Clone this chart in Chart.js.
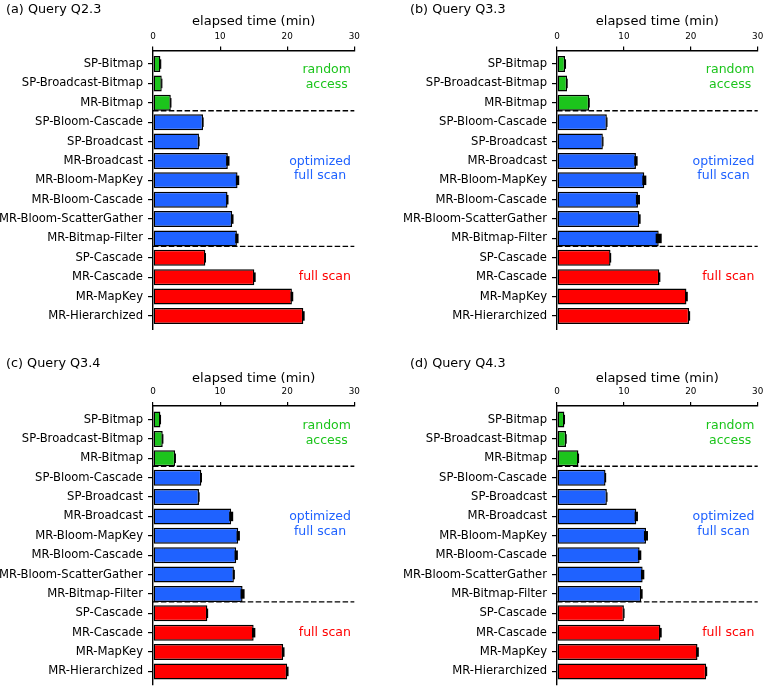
<!DOCTYPE html>
<html>
<head>
<meta charset="utf-8">
<script src="https://cdn.jsdelivr.net/npm/chart.js@4.4.1/dist/chart.umd.min.js"></script>
<style>
  html, body { margin: 0; padding: 0; background: #fff; }
  #wrap { position: relative; width: 763px; height: 687px; overflow: hidden; }
  #wrap canvas { position: absolute; }
</style>
</head>
<body>
<div id="wrap">
  <canvas id="qa" width="380" height="330" style="left:0;top:0"></canvas>
  <canvas id="qb" width="400" height="330" style="left:380px;top:0"></canvas>
  <canvas id="qc" width="380" height="357" style="left:0;top:330px"></canvas>
  <canvas id="qd" width="400" height="357" style="left:380px;top:330px"></canvas>
</div>
<script>
// categories (top to bottom) and the group each one belongs to
const categories = [
  'SP-Bitmap', 'SP-Broadcast-Bitmap', 'MR-Bitmap',
  'SP-Bloom-Cascade', 'SP-Broadcast', 'MR-Broadcast', 'MR-Bloom-MapKey',
  'MR-Bloom-Cascade', 'MR-Bloom-ScatterGather', 'MR-Bitmap-Filter',
  'SP-Cascade', 'MR-Cascade', 'MR-MapKey', 'MR-Hierarchized'
];
const categoryGroup = [0, 0, 0, 1, 1, 1, 1, 1, 1, 1, 2, 2, 2, 2];
const groupLabels = [['random', 'access'], ['optimized', 'full scan'], ['full scan']];
const xTicks = [0, 10, 20, 30];
const panelTitles = ['(a) Query Q2.3', '(b) Query Q3.3', '(c) Query Q3.4', '(d) Query Q4.3'];

// elapsed time (min) and error per query
const q23Times = [1.1, 1.3, 2.65, 7.45, 6.85, 11.15, 12.6, 11.1, 11.8, 12.5, 7.8, 15.1, 20.7, 22.4];
const q23Err   = [0.05, 0.08, 0.1, 0.08, 0.08, 0.25, 0.25, 0.15, 0.2, 0.25, 0.1, 0.2, 0.2, 0.2];
const q33Times = [1.2, 1.5, 4.8, 7.45, 6.85, 11.8, 13.05, 12.1, 12.3, 15.2, 8.0, 15.3, 19.35, 19.75];
const q33Err   = [0.15, 0.1, 0.1, 0.08, 0.08, 0.25, 0.3, 0.3, 0.2, 0.45, 0.08, 0.15, 0.2, 0.15];
const q34Times = [1.1, 1.45, 3.3, 7.2, 6.85, 11.65, 12.7, 12.4, 12.05, 13.35, 8.1, 15.0, 19.4, 20.0];
const q34Err   = [0.08, 0.1, 0.12, 0.1, 0.08, 0.3, 0.25, 0.25, 0.15, 0.3, 0.12, 0.25, 0.2, 0.2];
const q43Times = [1.1, 1.35, 3.2, 7.25, 7.45, 11.85, 13.3, 12.35, 12.8, 12.6, 10.0, 15.45, 21.0, 22.3];
const q43Err   = [0.1, 0.1, 0.1, 0.08, 0.08, 0.25, 0.3, 0.25, 0.25, 0.2, 0.08, 0.2, 0.2, 0.15];

const FONT = "'DejaVu Sans', sans-serif";
const groupColors = ['#1cc41c', '#1f62ff', '#ff0000'];
const BAR_PCT = 0.82;
const labelPos = [0.69, 5.4, 11];   // vertical centre of each group note (category units)

// separators sit on the lower edge of the last bar of each group
const separators = [];
for (let i = 0; i < categoryGroup.length - 1; i++) {
    if (categoryGroup[i] !== categoryGroup[i + 1]) separators.push(i + BAR_PCT / 2);
}

function makePanel(id, title, times, errs, lay) {
    const sepPlugin = {
        id: 'separators',
        beforeDatasetsDraw(chart) {
            const { ctx, scales: { x, y } } = chart;
            ctx.save();
            ctx.strokeStyle = '#000';
            ctx.lineWidth = 1.3;
            ctx.setLineDash([5.5, 2.4]);
            separators.forEach(s => {
                const py = y.getPixelForValue(s);
                ctx.beginPath();
                ctx.moveTo(x.getPixelForValue(0), py);
                ctx.lineTo(x.getPixelForValue(30), py);
                ctx.stroke();
            });
            ctx.restore();
        }
    };

    const errPlugin = {
        id: 'errbars',
        afterDatasetsDraw(chart) {
            const { ctx, scales: { x } } = chart;
            const meta = chart.getDatasetMeta(0);
            ctx.save();
            ctx.fillStyle = '#000';
            meta.data.forEach((bar, i) => {
                const x0 = x.getPixelForValue(times[i] - errs[i]);
                const x1 = x.getPixelForValue(times[i] + errs[i]);
                ctx.fillRect(x0, bar.y - 4.75, Math.max(x1 - x0, 1.2), 9.5);
            });
            ctx.restore();
        }
    };

    // panel heading + group notes
    const notePlugin = {
        id: 'groupnotes',
        afterDraw(chart) {
            const { ctx, scales: { x, y } } = chart;
            ctx.save();
            ctx.textBaseline = 'middle';
            ctx.textAlign = 'left';
            ctx.fillStyle = '#000';
            ctx.font = '12.8px ' + FONT;
            ctx.fillText(title, lay.titleX, lay.titleY);

            ctx.font = '12.5px ' + FONT;
            ctx.textAlign = 'center';
            groupLabels.forEach((lines, g) => {
                const w = Math.max(...lines.map(t => ctx.measureText(t).width));
                const cx = x.getPixelForValue(29.5) - w / 2;
                const cy = y.getPixelForValue(labelPos[g]);
                ctx.fillStyle = groupColors[g];
                lines.forEach((t, k) => {
                    ctx.fillText(t, cx, cy + (k - (lines.length - 1) / 2) * 14.7);
                });
            });
            ctx.restore();
        }
    };

    return new Chart(document.getElementById(id), {
        type: 'bar',
        data: {
            datasets: [{
                data: times.map((v, i) => ({ x: v, y: i })),
                backgroundColor: categoryGroup.map(g => groupColors[g]),
                borderColor: '#000',
                borderWidth: 1.4,
                borderSkipped: false,
                barPercentage: BAR_PCT,
                categoryPercentage: 1
            }]
        },
        options: {
            indexAxis: 'y',
            responsive: false,
            animation: false,
            devicePixelRatio: 1,
            layout: { padding: { left: 0, right: lay.right, top: 0, bottom: lay.bottom } },
            plugins: {
                legend: { display: false },
                tooltip: { enabled: false },
                title: { display: false }
            },
            scales: {
                x: {
                    type: 'linear',
                    position: 'top',
                    min: 0,
                    max: 30,
                    offset: false,
                    afterBuildTicks: s => { s.ticks = xTicks.map(v => ({ value: v })); },
                    ticks: { font: { family: FONT, size: 8.8 }, color: '#000', padding: 5, maxRotation: 0 },
                    grid: { offset: false, drawOnChartArea: false, drawTicks: true, tickLength: 4, color: '#000', lineWidth: 1.2 },
                    border: { display: true, color: '#000', width: 1.4 },
                    title: {
                        display: true,
                        text: 'elapsed time (min)',
                        color: '#000',
                        font: { family: FONT, size: 13, lineHeight: 1 },
                        padding: { top: lay.axisTitlePad, bottom: 0 }
                    },
                    afterFit: s => {
                        s.height = lay.axisH;
                        s.paddingLeft = 0;
                        s.paddingRight = 0;
                    }
                },
                y: {
                    type: 'linear',
                    reverse: true,
                    offset: false,
                    min: -0.7,
                    max: categories.length - 1 + 0.7,
                    afterBuildTicks: s => { s.ticks = categories.map((c, i) => ({ value: i })); },
                    ticks: {
                        autoSkip: false,
                        callback: v => categories[v],
                        font: { family: FONT, size: 11.6 },
                        color: '#000',
                        padding: 5
                    },
                    grid: { offset: false, drawOnChartArea: false, drawTicks: true, tickLength: 5, color: '#000', lineWidth: 1.2 },
                    border: { display: true, color: '#000', width: 1.4 },
                    afterFit: s => {
                        s.width = lay.axisW;
                        s.paddingTop = 0;
                        s.paddingBottom = 0;
                    }
                }
            }
        },
        plugins: [sepPlugin, errPlugin, notePlugin]
    });
}

const topRow = { titleY: 9.5, axisTitlePad: 15.3, axisH: 50.5, bottom: 0.5 };
const bottomRow = { titleY: 34, axisTitlePad: 42, axisH: 76, bottom: 2 };
const leftCol = { titleX: 6, axisW: 153, right: 25.7 };
const rightCol = { titleX: 30, axisW: 177, right: 22.3 };

makePanel('qa', panelTitles[0], q23Times, q23Err, Object.assign({}, topRow, leftCol));
makePanel('qb', panelTitles[1], q33Times, q33Err, Object.assign({}, topRow, rightCol));
makePanel('qc', panelTitles[2], q34Times, q34Err, Object.assign({}, bottomRow, leftCol));
makePanel('qd', panelTitles[3], q43Times, q43Err, Object.assign({}, bottomRow, rightCol));
</script>
</body>
</html>
